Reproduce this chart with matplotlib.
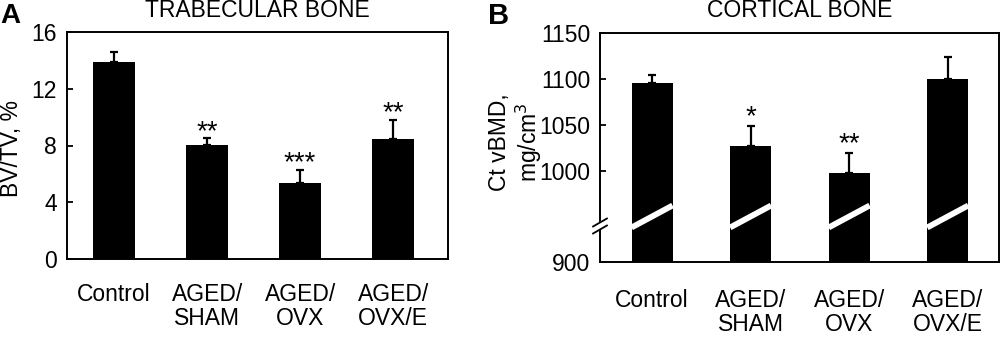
import numpy as np
import matplotlib
matplotlib.use("Agg")
import matplotlib.pyplot as plt

plt.rcParams['font.family'] = ['Liberation Sans', 'DejaVu Sans']

categories = ["Control", "AGED/\nSHAM", "AGED/\nOVX", "AGED/\nOVX/E"]

# Panel A: trabecular BV/TV (%)
bvtv_mean = [13.86, 8.06, 5.38, 8.43]
bvtv_err = [0.70, 0.45, 0.92, 1.40]
bvtv_sig = ["", "**", "***", "**"]
bvtv_ticks = [0, 4, 8, 12, 16]

# Panel B: cortical vBMD (mg/cm3)
ctbmd_mean = [1096, 1027, 998, 1100]
ctbmd_err = [9, 22, 21, 24]
ctbmd_sig = ["", "*", "**", ""]
ctbmd_ticks = [900, 1000, 1050, 1100, 1150]

fig = plt.figure(figsize=(10, 3.37), dpi=100)
W, H = 1000, 337

def axes_px(l, t, r, b):
    return fig.add_axes([l / W, 1 - b / H, (r - l) / W, (b - t) / H])

axA = axes_px(66.7, 32, 448, 259)
axB = axes_px(600, 33.3, 999, 262.3)

def style(ax):
    for s in ax.spines.values():
        s.set_linewidth(1.4)
        s.set_color('black')
    ax.tick_params(axis='y', direction='in', length=4, width=1.3,
                   labelsize=16.5, pad=7)

# ---- Panel A ----
x = np.arange(len(categories))
wA = 0.455
axA.bar(x, bvtv_mean, width=wA, color='black', edgecolor='none', zorder=2)
axA.errorbar(x, bvtv_mean, yerr=[np.zeros(len(x)), bvtv_err], fmt='none',
             ecolor='black', elinewidth=1.6, capsize=2.6, capthick=1.6, zorder=1)
for xi, m, e, s in zip(x, bvtv_mean, bvtv_err, bvtv_sig):
    if s:
        axA.annotate(s, (xi, m + e), xytext=(0, -5), textcoords='offset points',
                     ha='center', va='bottom', fontsize=20)
axA.set_xlim(-0.51, 3.59)
axA.set_ylim(0, 16)
axA.set_yticks(bvtv_ticks)
axA.set_xticks(x)
axA.set_xticklabels(categories, fontsize=16.5, linespacing=1.1)
axA.tick_params(axis='x', length=0, pad=17)
style(axA)

# ---- Panel B ----
wB = 0.416
axB.bar(x, np.array(ctbmd_mean) - 900, bottom=900, width=wB, color='black',
        edgecolor='none', zorder=2)
axB.errorbar(x, ctbmd_mean, yerr=[np.zeros(len(x)), ctbmd_err], fmt='none',
             ecolor='black', elinewidth=1.6, capsize=2.6, capthick=1.6, zorder=1)
for xi in x:
    axB.plot([xi - wB / 2, xi + wB / 2], [938, 962], color='white', lw=4.2,
             solid_capstyle='butt', zorder=3)
for xi, m, e, s in zip(x, ctbmd_mean, ctbmd_err, ctbmd_sig):
    if s:
        axB.annotate(s, (xi, m + e), xytext=(0, -3), textcoords='offset points',
                     ha='center', va='bottom', fontsize=20)
axB.set_xlim(-0.528, 3.52)
axB.set_ylim(900, 1150)
axB.set_yticks(ctbmd_ticks)
axB.set_xticks(x)
axB.set_xticklabels(categories, fontsize=16.5, linespacing=1.05)
axB.tick_params(axis='x', length=0, pad=19)
style(axB)

# axis break mark on left spine of panel B
bx, by = 600, 226
ang = np.deg2rad(30)
dx, dy = np.cos(ang), np.sin(ang)
def fig_line(xs, ys, **kw):
    fig.add_artist(plt.Line2D([v / W for v in xs], [1 - v / H for v in ys],
                              transform=fig.transFigure, **kw))
fig_line([bx - 3 * dx, bx + 3 * dx], [by + 3 * dy, by - 3 * dy], color='white', lw=5)
for off in (-3.5, 3.5):
    fig_line([bx - 8 * dx, bx + 8 * dx], [by + off + 8 * dy, by + off - 8 * dy],
             color='black', lw=1.3)

# labels
fig.text(12 / W, 1 - 148 / H, "BV/TV, %", rotation=90, ha='center', va='center',
         fontsize=16.5)
fig.text(516 / W, 1 - 142 / H, "Ct vBMD,\nmg/cm$^3$", rotation=90, ha='center',
         va='center', fontsize=16.5, multialignment='center', linespacing=1.1)

fig.text(257 / W, 1 - 17 / H, "TRABECULAR BONE", ha='center', va='baseline',
         fontsize=16.5)
fig.text(800 / W, 1 - 17 / H, "CORTICAL BONE", ha='center', va='baseline',
         fontsize=16.5)
fig.text(0 / W, 1 - 23 / H, "A", ha='left', va='baseline', fontsize=20,
         fontweight='bold')
fig.text(488 / W, 1 - 24 / H, "B", ha='left', va='baseline', fontsize=21,
         fontweight='bold')

fig.savefig("out.png", dpi=100)
